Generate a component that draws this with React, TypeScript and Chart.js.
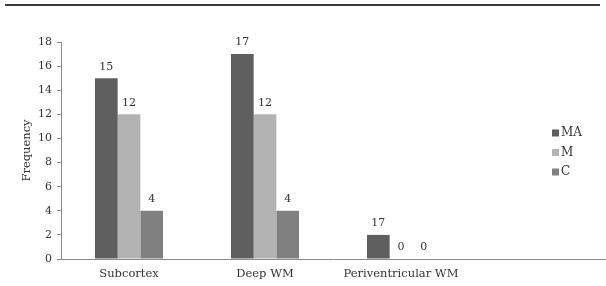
import React, { useEffect, useRef } from "react";
import { Chart, registerables } from "chart.js";

Chart.register(...registerables);

const categories = ["Subcortex", "Deep WM", "Periventricular WM", ""];
const seriesNames = ["MA", "M", "C"];
const maValues = [15, 17, 2, null];
const mValues = [12, 12, 0, null];
const cValues = [4, 4, 0, null];
const maLabels = ["15", "17", "17", ""];
const mLabels = ["12", "12", "0", ""];
const cLabels = ["4", "4", "0", ""];
const colors = ["#5f5f5f", "#b3b3b3", "#808080"];
const yTicks = [0, 2, 4, 6, 8, 10, 12, 14, 16, 18];

const FONT = "'DejaVu Serif', serif";

export default function App() {
  const ref = useRef<HTMLCanvasElement>(null);
  useEffect(() => {
    const labelSets = [maLabels, mLabels, cLabels];
    const extras = {
      id: "extras",
      afterDraw(chart: any) {
        const ctx = chart.ctx;
        ctx.save();
        // top rule
        ctx.strokeStyle = "#3a3a3a";
        ctx.lineWidth = 2;
        ctx.beginPath();
        ctx.moveTo(5, 5);
        ctx.lineTo(600, 5);
        ctx.stroke();
        // data labels
        ctx.fillStyle = "#333";
        ctx.font = `11px ${FONT}`;
        ctx.textAlign = "center";
        ctx.textBaseline = "bottom";
        chart.data.datasets.forEach((ds: any, i: number) => {
          const meta = chart.getDatasetMeta(i);
          meta.data.forEach((bar: any, j: number) => {
            const t = labelSets[i][j];
            if (!t) return;
            ctx.fillText(t, bar.x, bar.y - 6);
          });
        });
        // legend
        ctx.textAlign = "left";
        ctx.textBaseline = "middle";
        ctx.font = `12px ${FONT}`;
        seriesNames.forEach((n, i) => {
          const y = 133 + i * 19.5;
          ctx.fillStyle = colors[i];
          ctx.fillRect(552, y - 3.5, 7, 7);
          ctx.fillStyle = "#333";
          ctx.fillText(n, 561, y);
        });
        ctx.restore();
      },
    };
    const chart = new Chart(ref.current!, {
      type: "bar",
      data: {
        labels: categories,
        datasets: [
          { label: seriesNames[0], data: maValues, backgroundColor: colors[0] },
          { label: seriesNames[1], data: mValues, backgroundColor: colors[1] },
          { label: seriesNames[2], data: cValues, backgroundColor: colors[2] },
        ] as any,
      },
      options: {
        animation: false,
        responsive: false,
        maintainAspectRatio: false,
        layout: { padding: { top: 42, right: 1, left: 0, bottom: 0 } },
        datasets: { bar: { categoryPercentage: 0.5, barPercentage: 1 } },
        plugins: { legend: { display: false }, tooltip: { enabled: false } },
        scales: {
          x: {
            grid: { display: false },
            border: { display: true, color: "#8a8a8a", width: 1 },
            ticks: {
              color: "#333",
              font: { family: FONT, size: 11.5 },
              maxRotation: 0,
              autoSkip: false,
              padding: 0,
            },
            afterFit(scale: any) {
              scale.height = 27;
            },
          },
          y: {
            min: 0,
            max: 18,
            afterBuildTicks(scale: any) {
              scale.ticks = yTicks.map((v) => ({ value: v }));
            },
            grid: {
              display: true,
              drawOnChartArea: false,
              drawTicks: true,
              tickLength: 4,
              color: "#8a8a8a",
            },
            border: { display: true, color: "#8a8a8a", width: 1 },
            ticks: {
              color: "#333",
              font: { family: FONT, size: 11 },
              padding: 5,
            },
            title: {
              display: true,
              text: "Frequency",
              color: "#333",
              font: { family: FONT, size: 11.5 },
              padding: { top: 20, bottom: 0 },
            },
            afterFit(scale: any) {
              scale.width = 61;
            },
          },
        },
      },
      plugins: [extras],
    });
    return () => chart.destroy();
  }, []);
  return (
    <div style={{ position: "absolute", left: 0, top: 0, width: 606, height: 286, background: "#fff" }}>
      <canvas ref={ref} width={606} height={286} style={{ width: 606, height: 286 }} />
    </div>
  );
}
